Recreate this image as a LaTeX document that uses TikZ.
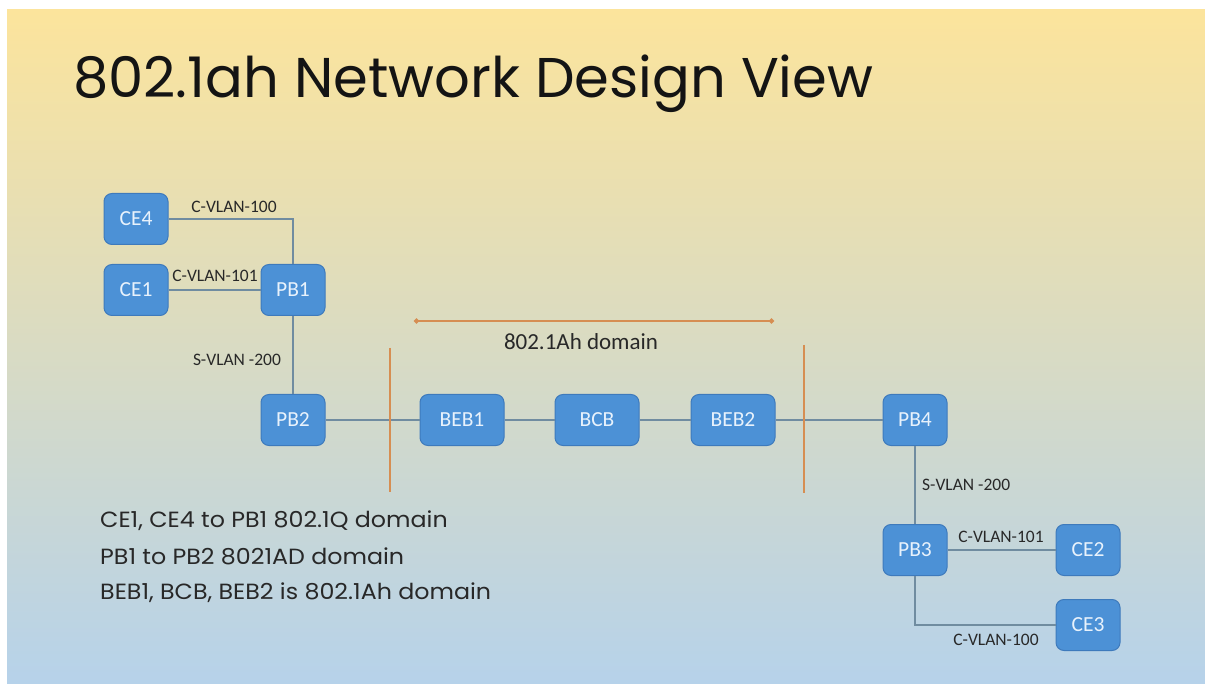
\documentclass[tikz,border=0pt]{standalone}
\usepackage{fontspec}
\setmainfont{Carlito}
\newfontfamily\gothic{Poppins}
\newfontfamily\gothicwide[FakeStretch=1.08]{Poppins}
\usetikzlibrary{arrows.meta}
\definecolor{nodefill}{RGB}{76,145,214}
\definecolor{nodeedge}{RGB}{62,122,188}
\definecolor{nodetext}{RGB}{232,242,252}
\definecolor{linkcol}{RGB}{112,140,160}
\definecolor{domcol}{RGB}{214,142,82}
\definecolor{labcol}{RGB}{40,40,40}
\definecolor{bgtop}{RGB}{252,228,156}
\definecolor{bgmid}{RGB}{222,220,192}
\definecolor{bgbot}{RGB}{182,210,234}
\tikzset{
  dev/.style={draw=nodeedge, line width=1pt, fill=nodefill, rounded corners=8pt,
    minimum width=64pt, minimum height=51pt, text=nodetext,
    font=\fontsize{21.5}{22}\selectfont, inner sep=0pt},
  devwide/.style={dev, minimum width=84pt},
  link/.style={draw=linkcol, line width=1.1pt},
  dom/.style={draw=domcol, line width=1.3pt},
  vlan/.style={text=labcol, font=\fontsize{17.5}{18}\selectfont, inner sep=0pt},
  note/.style={text=labcol, font=\gothicwide\fontsize{22}{24}\selectfont, inner sep=0pt, anchor=base west}
}
\begin{document}
\begin{tikzpicture}[x=1pt, y=-1pt]
  % canvas and slide background
  \useasboundingbox (0,0) rectangle (1205,684);
  \fill[white] (0,0) rectangle (1205,684);
  \shade[top color=bgtop, middle color=bgmid, bottom color=bgbot] (7,10) rectangle (1205,684);

  % title
  \node[anchor=base west, inner sep=0pt, text=black!92, font=\gothic\fontsize{56}{60}\selectfont]
    (title) at (73,98) {802.1ah Network Design View};

  % devices
  \node[dev] (CE4) at (136,219) {CE4};
  \node[dev] (CE1) at (136,290) {CE1};
  \node[dev] (PB1) at (293,290) {PB1};
  \node[dev] (PB2) at (293,420) {PB2};
  \node[devwide] (BEB1) at (462,420) {BEB1};
  \node[devwide] (BCB) at (597,420) {BCB};
  \node[devwide] (BEB2) at (733,420) {BEB2};
  \node[dev] (PB4) at (915,420) {PB4};
  \node[dev] (PB3) at (915,550) {PB3};
  \node[dev] (CE2) at (1088,550) {CE2};
  \node[dev] (CE3) at (1088,625) {CE3};

  % links
  \draw[link] (CE4.east) -| (PB1.north);
  \draw[link] (CE1.east) -- (PB1.west);
  \draw[link] (PB1.south) -- (PB2.north);
  \draw[link] (PB2.east) -- (BEB1.west);
  \draw[link] (BEB1.east) -- (BCB.west);
  \draw[link] (BCB.east) -- (BEB2.west);
  \draw[link] (BEB2.east) -- (PB4.west);
  \draw[link] (PB4.south) -- (PB3.north);
  \draw[link] (PB3.east) -- (CE2.west);
  \draw[link] (PB3.south) |- (CE3.west);

  % VLAN labels
  \node[vlan] (l100a) at (234,207) {C-VLAN-100};
  \node[vlan] (l101a) at (215,276) {C-VLAN-101};
  \node[vlan] (s200a) at (237,360) {S-VLAN -200};
  \node[vlan, anchor=west] (s200b) at (922,485) {S-VLAN -200};
  \node[vlan] (l101b) at (1001,537) {C-VLAN-101};
  \node[vlan] (l100b) at (996,640) {C-VLAN-100};

  % 802.1Ah domain boundaries
  \coordinate (bl1) at (390,348);
  \coordinate (bl2) at (390,492);
  \coordinate (br1) at (804,345);
  \coordinate (br2) at (804,493);
  \draw[dom] (bl1) -- (bl2);
  \draw[dom] (br1) -- (br2);
  \coordinate (da) at (414,321);
  \coordinate (db) at (774,321);
  \draw[dom, {Circle[length=5pt]}-{Circle[length=5pt]}] (da) -- (db);
  \node[text=labcol, font=\fontsize{23}{24}\selectfont, inner sep=0pt] (domlab) at (581,342) {802.1Ah domain};

  % notes
  \node[note] (n1) at (100,527) {CE1, CE4 to PB1 802.1Q domain};
  \node[note] (n2) at (100,564) {PB1 to PB2 8021AD domain};
  \node[note] (n3) at (100,599) {BEB1, BCB, BEB2 is 802.1Ah domain};
\end{tikzpicture}
\end{document}
